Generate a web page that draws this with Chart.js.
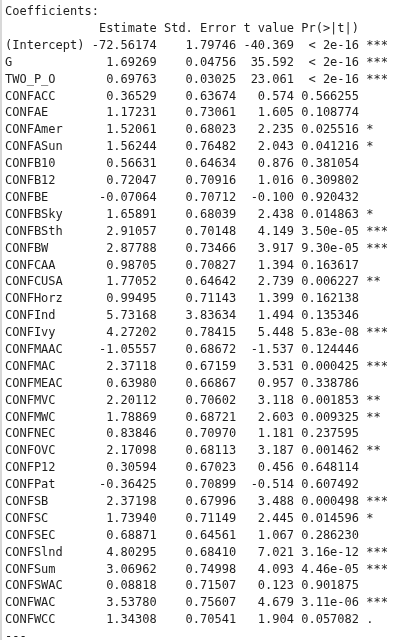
<!DOCTYPE html>
<html>
<head>
<meta charset="utf-8">
<script src="https://cdn.jsdelivr.net/npm/chart.js@4"></script>
<style>
  html, body { margin: 0; padding: 0; background: #fff; }
  #wrap { width: 400px; height: 640px; position: relative; border-left: 2px solid #d8d8d8; box-sizing: border-box; }
</style>
</head>
<body>
<div id="wrap"><canvas id="coefChart"></canvas></div>
<script>
// Coefficient table

const terms = ['(Intercept)', 'G', 'TWO_P_O', 'CONFACC', 'CONFAE', 'CONFAmer', 'CONFASun', 'CONFB10', 'CONFB12',
    'CONFBE', 'CONFBSky', 'CONFBSth', 'CONFBW', 'CONFCAA', 'CONFCUSA', 'CONFHorz', 'CONFInd', 'CONFIvy', 'CONFMAAC',
    'CONFMAC', 'CONFMEAC', 'CONFMVC', 'CONFMWC', 'CONFNEC', 'CONFOVC', 'CONFP12', 'CONFPat', 'CONFSB', 'CONFSC',
    'CONFSEC', 'CONFSlnd', 'CONFSum', 'CONFSWAC', 'CONFWAC', 'CONFWCC'];
const estimates = [-72.56174, 1.69269, 0.69763, 0.36529, 1.17231, 1.52061, 1.56244, 0.56631, 0.72047,
    -0.07064, 1.65891, 2.91057, 2.87788, 0.98705, 1.77052, 0.99495, 5.73168, 4.27202, -1.05557,
    2.37118, 0.63980, 2.20112, 1.78869, 0.83846, 2.17098, 0.30594, -0.36425, 2.37198, 1.73940,
    0.68871, 4.80295, 3.06962, 0.08818, 3.53780, 1.34308];
const stdErrors = [1.79746, 0.04756, 0.03025, 0.63674, 0.73061, 0.68023, 0.76482, 0.64634, 0.70916,
    0.70712, 0.68039, 0.70148, 0.73466, 0.70827, 0.64642, 0.71143, 3.83634, 0.78415, 0.68672,
    0.67159, 0.66867, 0.70602, 0.68721, 0.70970, 0.68113, 0.67023, 0.70899, 0.67996, 0.71149,
    0.64561, 0.68410, 0.74998, 0.71507, 0.75607, 0.70541];
const tValues = [-40.369, 35.592, 23.061, 0.574, 1.605, 2.235, 2.043, 0.876, 1.016,
    -0.100, 2.438, 4.149, 3.917, 1.394, 2.739, 1.399, 1.494, 5.448, -1.537,
    3.531, 0.957, 3.118, 2.603, 1.181, 3.187, 0.456, -0.514, 3.488, 2.445,
    1.067, 7.021, 4.093, 0.123, 4.679, 1.904];
const pValues = ['< 2e-16', '< 2e-16', '< 2e-16', '0.566255', '0.108774', '0.025516', '0.041216', '0.381054', '0.309802',
    '0.920432', '0.014863', '3.50e-05', '9.30e-05', '0.163617', '0.006227', '0.162138', '0.135346', '5.83e-08', '0.124446',
    '0.000425', '0.338786', '0.001853', '0.009325', '0.237595', '0.001462', '0.648114', '0.607492', '0.000498', '0.014596',
    '0.286230', '3.16e-12', '4.46e-05', '0.901875', '3.11e-06', '0.057082'];
const stars = ['***', '***', '***', '', '', '*', '*', '', '',
    '', '*', '***', '***', '', '**', '', '', '***', '',
    '***', '', '**', '**', '', '**', '', '', '***', '*',
    '', '***', '***', '', '***', '.'];

const fmtRow = (name, est, se, t, p, s) =>
    name.padEnd(11) + ' ' + est.padStart(9) + ' ' + se.padStart(10) + ' ' + t.padStart(7) + ' ' + p.padStart(8) + ' ' + s;

const lines = ['Coefficients:', fmtRow('', 'Estimate', 'Std. Error', 't value', 'Pr(>|t|)', '')];
terms.forEach((name, i) => {
    lines.push(fmtRow(name, estimates[i].toFixed(5), stdErrors[i].toFixed(5), tValues[i].toFixed(3), pValues[i], stars[i]));
});
lines.push('---');

const tableText = {
    id: 'tableText',
    afterDraw(chart) {
        const ctx = chart.ctx;
        const yScale = chart.scales.y;
        ctx.save();
        ctx.font = '12px "DejaVu Sans Mono", monospace';
        ctx.fillStyle = '#1e1e1e';
        ctx.textBaseline = 'middle';
        ctx.textAlign = 'left';
        chart.data.labels.forEach((line, i) => {
            ctx.fillText(line, 3, yScale.getPixelForValue(i));
        });
        ctx.restore();
    }
};

new Chart(document.getElementById('coefChart').getContext('2d'), {
    type: 'bar',
    data: { labels: lines, datasets: [{ data: [] }] },
    options: {
        indexAxis: 'y',
        responsive: true,
        maintainAspectRatio: false,
        animation: false,
        layout: { padding: { top: 12, bottom: 3, left: 0, right: 0 } },
        plugins: { legend: { display: false }, tooltip: { enabled: false } },
        scales: {
            x: { display: false },
            y: { display: false, offset: false }
        }
    },
    plugins: [tableText]
});
</script>
</body>
</html>
